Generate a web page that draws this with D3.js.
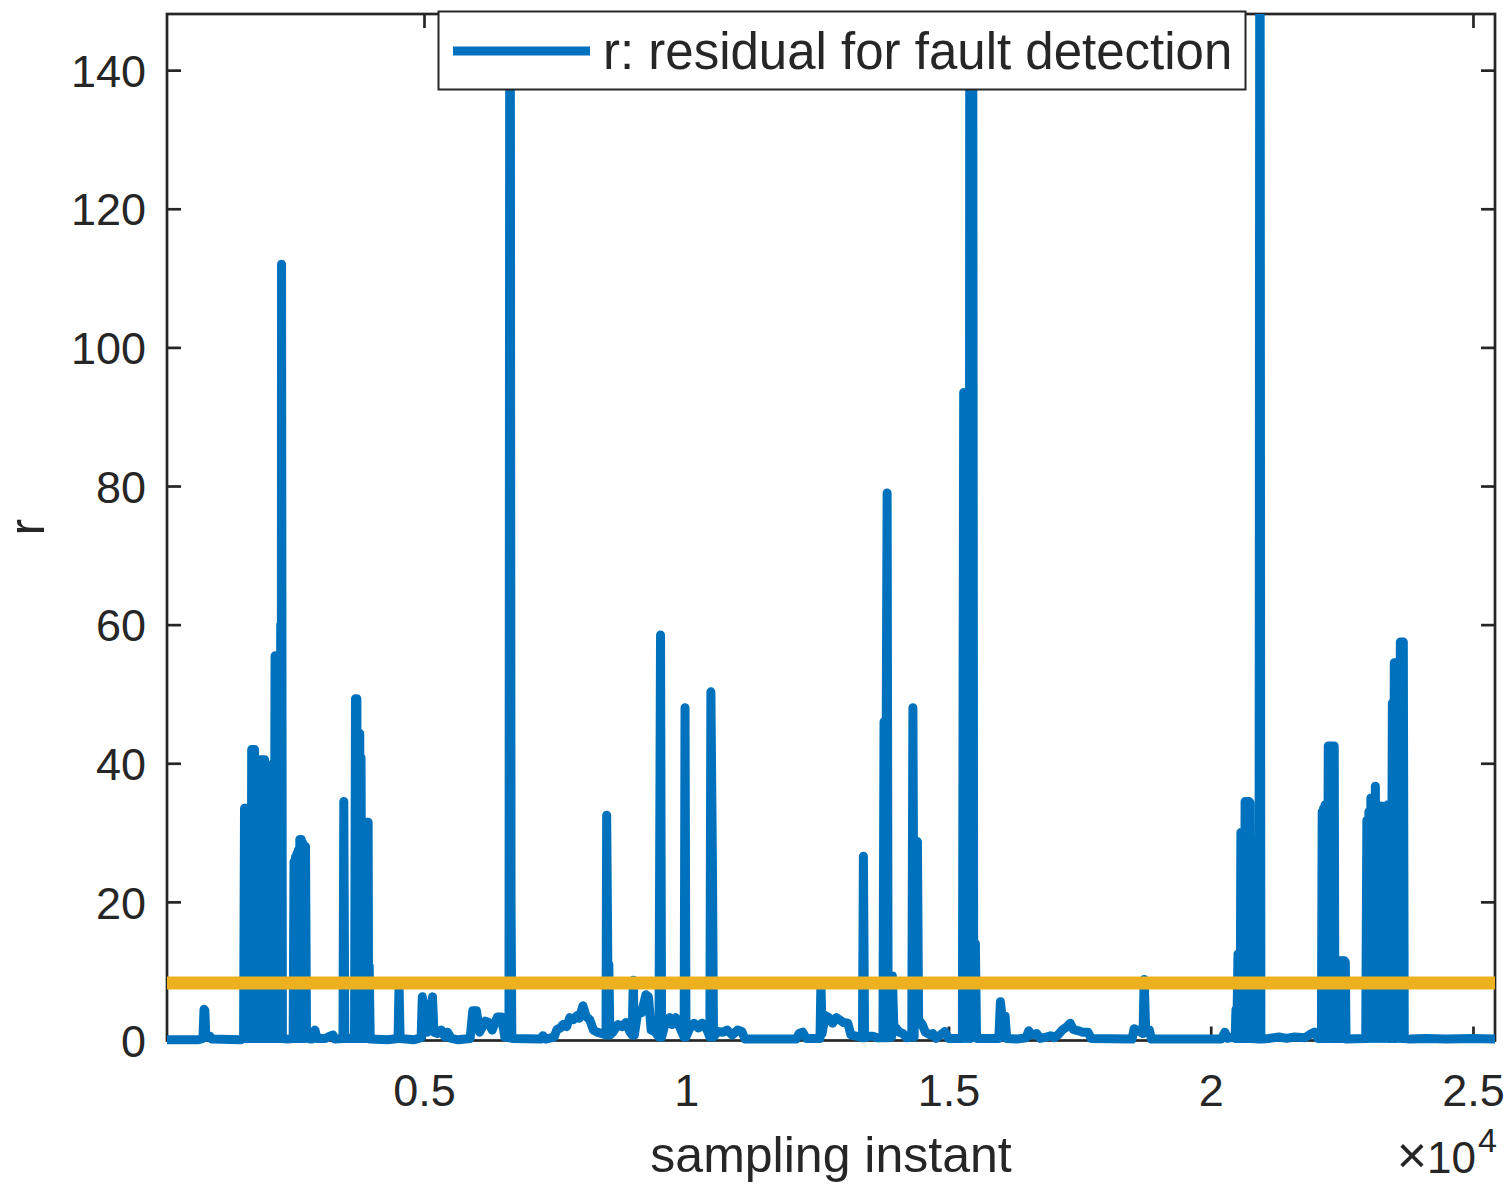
<!DOCTYPE html>
<html>
<head>
<meta charset="utf-8">
<script src="https://cdn.jsdelivr.net/npm/d3@7"></script>
<style>
  body { margin: 0; background: #fff; }
  text { font-family: "Liberation Sans", Arial, Helvetica, sans-serif; fill: #262626; }
</style>
</head>
<body>
<div id="chart"></div>
<script>
// residual r against sampling instant as [instant, r]
const residualPoints = [
  [100,0.1],[700,0.1],[785,0.3],[806,4.5],[822,4.3],[840,0.5],[920,0.6],[950,0.2],[1500,0.1],
  // burst around 0.2e4
  [1560,0.3],[1578,33.5],[1590,0.3],[1605,33.5],[1618,0.3],[1632,33.5],[1645,0.3],[1660,33.5],[1672,0.3],
  [1688,33],[1700,0.3],[1715,42],[1728,0.3],[1742,42],[1755,0.3],[1770,42],[1782,0.3],[1797,38.5],
  [1810,0.3],[1825,38.5],[1838,0.3],[1852,40.5],[1865,0.3],[1880,40.5],[1893,0.3],[1908,40.5],[1920,0.3],
  [1935,40.5],[1948,0.3],[1962,40.5],[1975,0.3],[1990,37],[2003,0.3],[2018,37],[2030,0.3],[2045,37],
  [2058,0.3],[2072,37],[2085,0.3],[2100,37],[2113,0.3],[2128,40],[2140,0.3],[2160,55.5],[2172,0.3],
  [2188,55.5],[2200,0.3],[2215,45],[2228,0.3],[2242,45],[2255,0.3],[2268,60],[2276,0.3],[2284,112],[2300,0.3],
  [2400,0.2],[2505,0.3],[2522,25.8],[2535,0.3],[2550,26.5],[2563,0.3],[2578,27],[2590,0.3],[2605,27.5],
  [2618,0.3],[2632,29],[2645,0.3],[2660,29],[2673,0.3],[2688,28.5],[2700,0.3],[2715,28],[2728,0.3],
  [2741,28],[2760,0.3],
  [2850,0.2],[2900,0.3],[2922,1.5],[2960,0.3],[3120,0.3],[3200,0.6],[3265,0.8],[3300,0.2],
  [3455,0.3],[3471,34.5],[3490,0.3],[3675,0.3],[3694,49.3],[3707,0.3],[3720,49.3],[3733,0.3],
  [3748,44.3],[3760,0.3],[3775,44.3],[3788,0.3],[3800,40.8],[3813,0.3],[3828,31.5],[3840,0.3],
  [3855,31.5],[3868,0.3],[3882,31.5],[3895,0.3],[3910,31.5],[3923,0.3],[3935,31.5],[3945,0.3],
  [3955,10.8],[3975,0.2],
  [4300,0.1],[4505,0.3],[4524,8],[4545,0.3],[4800,0.1],[4945,0.4],[4968,6.3],[5060,1.2],[5162,6.3],
  [5190,1.2],[5260,1.0],[5330,1.5],[5400,0.5],[5450,1.2],[5520,0.3],[5650,0.1],[5880,0.3],[5930,4.3],
  [6000,4.3],[6060,1.2],[6170,2.8],[6230,2.6],[6300,1.5],[6400,3.4],[6480,3.4],[6540,0.5],[6620,0.4],
  [6640,200],[6660,19.5],[6675,0.3],
  [7230,0.2],[7269,0.7],[7320,0.2],[7480,0.5],[7536,1.6],[7600,1.8],[7650,2.3],[7720,2.0],[7780,3.3],
  [7850,3.0],[7917,3.6],[7960,3.2],[8031,5.0],[8090,3.5],[8160,3.0],[8230,1.5],[8300,1.2],[8400,1.0],
  [8470,0.8],[8483,32.5],[8505,11],[8524,11],[8545,0.8],[8600,1.2],[8700,2.3],[8780,2.0],[8850,2.6],
  [8930,1.2],[8970,0.8],[8990,8.7],[9010,0.8],[9080,4.3],[9150,4.0],[9230,6.6],[9280,6.3],[9330,1.5],
  [9400,1.3],[9480,0.5],[9510,58.5],[9530,0.5],[9600,2.5],[9680,3.3],[9730,2.3],[9800,3.3],[9900,1.5],
  [9960,0.5],[9977,48],[9995,0.5],[10080,2.0],[10150,2.5],[10230,1.8],[10300,2.5],[10400,1.5],
  [10450,0.5],[10470,50.3],[10500,25],[10520,0.5],[10600,1.3],[10700,1.2],[10780,1.5],[10880,0.8],
  [10980,1.5],[11060,1.3],[11120,0.2],
  [12100,0.2],[12150,1.0],[12220,1.2],[12290,0.3],[12550,0.3],[12568,8.3],[12590,1.0],[12650,3.6],
  [12720,3.3],[12790,2.5],[12860,3.3],[12920,3.0],[13000,2.6],[13080,2.5],[13140,0.8],[13360,0.4],
  [13378,26.6],[13400,0.4],[13480,0.6],[13560,0.6],[13640,0.4],[13750,0.4],[13771,46],[13790,0.4],
  [13830,79],[13850,0.4],[13870,9.3],[13885,0.5],[13900,9.3],[13915,0.5],[13930,9.3],[13960,1.5],
  [14000,1.8],[14060,1.2],[14130,1.0],[14200,0.4],[14300,0.5],[14322,48],[14345,0.5],[14380,28.7],
  [14408,28.7],[14430,3.0],[14500,2.3],[14560,1.2],[14650,0.8],[14700,1.0],[14760,0.3],[14850,0.8],
  [14930,1.3],[15000,0.3],
  // burst around 1.55e4
  [15265,0.3],[15290,93.5],[15310,0.3],[15330,93.5],[15350,0.3],[15380,80],[15395,0.3],[15409,200],
  [15425,0.3],[15440,200],[15456,200],[15480,14],[15513,14],[15535,0.3],
  [15960,0.3],[15990,5.6],[16020,3.5],[16080,3.5],[16110,0.3],[16300,0.2],[16480,0.4],[16530,1.4],
  [16580,0.8],[16680,1.0],[16750,0.3],[16880,0.5],[16950,0.7],[17020,0.4],[17100,0.9],[17180,1.6],
  [17260,2.0],[17320,2.5],[17380,1.6],[17480,1.4],[17560,1.2],[17660,1.2],[17720,0.3],
  [18500,0.2],[18540,1.7],[18590,1.5],[18710,1.0],[18730,8.8],[18760,1.5],[18830,1.5],[18870,0.2],
  // burst around 2.07e4
  [20200,0.2],[20271,1.2],[20320,0.3],[20420,0.5],[20465,0.3],[20481,4.5],[20495,0.3],[20520,12.5],
  [20533,0.3],[20548,12.5],[20560,0.3],[20575,30],[20588,0.3],[20600,30],[20613,0.3],[20628,30],
  [20640,0.3],[20655,34.5],[20668,0.3],[20682,34.5],[20695,0.3],[20710,34.5],[20722,0.3],[20735,34.5],
  [20748,34.3],[20765,0.3],[20920,0.2],[20938,200],[20956,0.2],
  [21100,0.3],[21300,0.5],[21450,0.3],[21600,0.5],[21800,0.4],[21920,1.0],[21980,1.2],[22040,0.3],
  // burst around 2.23e4
  [22110,0.3],[22125,33],[22138,0.3],[22152,33.5],[22165,0.3],[22180,34],[22193,0.3],[22208,34],
  [22220,0.3],[22241,42.5],[22254,0.3],[22268,42.5],[22281,0.3],[22296,42.5],[22309,0.3],[22323,42.5],
  [22336,0.3],[22355,42.5],[22368,0.3],[22385,11.5],[22398,0.3],[22413,11.5],[22426,0.3],[22440,11.5],
  [22453,0.3],[22468,11.5],[22481,0.3],[22495,11.5],[22508,0.3],[22522,11.5],[22535,0.3],[22550,11.5],
  [22566,11.3],[22580,0.2],
  // burst around 2.33e4
  [22955,0.3],[22977,31.8],[22995,0.3],[23015,33],[23030,0.3],[23053,35],[23070,0.3],[23095,35],
  [23110,0.3],[23139,36.7],[23155,0.3],[23180,34],[23195,0.3],[23215,33.8],[23235,0.3],[23255,33.8],
  [23275,0.3],[23291,33.8],[23310,0.3],[23335,33.8],[23350,0.3],[23375,34],[23395,0.3],[23420,20],
  [23440,0.3],[23463,48.7],[23480,0.3],[23500,54.5],[23510,0.3],[23520,54.5],[23540,0.3],[23567,54.5],
  [23585,0.3],[23615,57.5],[23635,0.3],[23650,57.5],[23660,0.3],[23672,57.5],[23690,0.3],
  [23800,0.2],[24100,0.3],[24500,0.2],[25000,0.3],[25420,0.2]
];

const threshold = 8.3;
const xDomain = [100, 25420];
const yDomain = [0, 148.1];
const xTickValues = [5000, 10000, 15000, 20000, 25000];
const xTickLabels = ["0.5", "1", "1.5", "2", "2.5"];
const yTickValues = [0, 20, 40, 60, 80, 100, 120, 140];

const width = 1508, height = 1186;
const margin = {top: 14, right: 13, bottom: 145.5, left: 167};
const axisColor = "#262626";

const x = d3.scaleLinear()
  .domain(xDomain)
  .range([margin.left, width - margin.right]);

const y = d3.scaleLinear()
  .domain(yDomain)
  .range([height - margin.bottom, margin.top]);

const svg = d3.select("#chart")
  .append("svg")
  .attr("width", width)
  .attr("height", height)
  .attr("viewBox", [0, 0, width, height]);

svg.append("defs").append("clipPath")
    .attr("id", "plot-clip")
  .append("rect")
    .attr("x", margin.left)
    .attr("y", margin.top)
    .attr("width", width - margin.left - margin.right)
    .attr("height", height - margin.top - margin.bottom + 5);

const tickLen = 14;

// axes (ticks point inward, box on)
const styleAxis = g => {
  g.select(".domain").remove();
  g.selectAll(".tick line").attr("stroke", axisColor).attr("stroke-width", 2.7);
  g.selectAll(".tick text").attr("fill", axisColor).attr("font-size", 45)
    .attr("font-family", "'Liberation Sans', Arial, sans-serif");
};

svg.append("g")
  .attr("transform", `translate(${margin.left},0)`)
  .call(d3.axisLeft(y).tickValues(yTickValues).tickSize(-tickLen).tickSizeOuter(0).tickPadding(21))
  .call(styleAxis)
  .call(g => g.selectAll(".tick text").attr("dy", "0.36em"));

svg.append("g")
  .attr("transform", `translate(${width - margin.right},0)`)
  .call(d3.axisRight(y).tickValues(yTickValues).tickSize(-tickLen).tickSizeOuter(0).tickFormat(""))
  .call(styleAxis);

svg.append("g")
  .attr("transform", `translate(0,${height - margin.bottom})`)
  .call(d3.axisBottom(x).tickValues(xTickValues).tickSize(-tickLen).tickSizeOuter(0)
    .tickFormat((d, i) => xTickLabels[i]).tickPadding(34))
  .call(styleAxis)
  .call(g => g.selectAll(".tick text").attr("dy", "0.71em"));

svg.append("g")
  .attr("transform", `translate(0,${margin.top})`)
  .call(d3.axisTop(x).tickValues(xTickValues).tickSize(-tickLen).tickSizeOuter(0).tickFormat(""))
  .call(styleAxis);

svg.append("rect")
  .attr("x", margin.left)
  .attr("y", margin.top)
  .attr("width", width - margin.left - margin.right)
  .attr("height", height - margin.top - margin.bottom)
  .attr("fill", "none")
  .attr("stroke", axisColor)
  .attr("stroke-width", 2.7);

// residual line
const line = d3.line()
  .x(d => x(d[0]))
  .y(d => y(d[1]));

const plot = svg.append("g").attr("clip-path", "url(#plot-clip)");

plot.append("path")
  .datum(residualPoints)
  .attr("d", line)
  .attr("fill", "none")
  .attr("stroke", "#0072BD")
  .attr("stroke-width", 9)
  .attr("stroke-linejoin", "round")
  .attr("stroke-linecap", "round");

plot.append("line")
  .attr("x1", x(xDomain[0]))
  .attr("x2", x(xDomain[1]))
  .attr("y1", y(threshold))
  .attr("y2", y(threshold))
  .attr("stroke", "#EDB120")
  .attr("stroke-width", 13);

// labels
svg.append("text")
  .attr("x", (margin.left + width - margin.right) / 2)
  .attr("y", 1172)
  .attr("text-anchor", "middle")
  .attr("font-size", 50)
  .text("sampling instant");

svg.append("text")
  .attr("transform", `translate(44,${(margin.top + height - margin.bottom) / 2}) rotate(-90)`)
  .attr("text-anchor", "middle")
  .attr("font-size", 50)
  .text("r");

const expo = svg.append("text")
  .attr("x", 1476)
  .attr("y", 1173)
  .attr("text-anchor", "end")
  .attr("font-size", 44);
expo.append("tspan").attr("font-size", 52).text("\u00d7");
expo.append("tspan").text("10");
svg.append("text")
  .attr("x", 1478)
  .attr("y", 1152)
  .attr("font-size", 34)
  .text("4");

// legend
const legend = svg.append("g");
legend.append("rect")
  .attr("x", 438.5)
  .attr("y", 11.5)
  .attr("width", 807)
  .attr("height", 78)
  .attr("fill", "#fff")
  .attr("stroke", axisColor)
  .attr("stroke-width", 2);
legend.append("line")
  .attr("x1", 453)
  .attr("x2", 590)
  .attr("y1", 51)
  .attr("y2", 51)
  .attr("stroke", "#0072BD")
  .attr("stroke-width", 9);
legend.append("text")
  .attr("x", 603)
  .attr("y", 69)
  .attr("font-size", 51)
  .attr("fill", "#000")
  .text("r: residual for fault detection");
</script>
</body>
</html>
